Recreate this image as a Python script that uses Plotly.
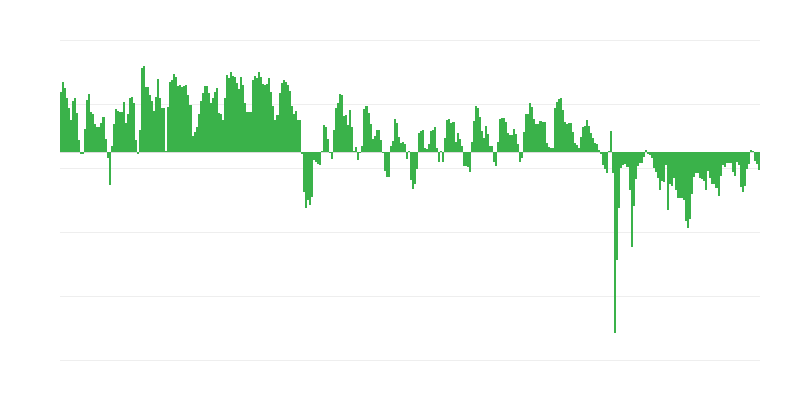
import plotly.graph_objects as go

# bar heights, left to right, in chunks
vals_a = [60.3, 70.3, 63.7, 54.3, 43.7, 32, 51.3, 54.3, 39.3, 12,
          -2.3, -2.3, 23, 52.3, 58.3, 40.3, 38, 27.7, 24.7, 24.7,
          29, 35.3, 13.3, -6.3, -33, 6.3, 28.3, 43, 41, 40.3,
          40.3, 50, 29, 37.7, 54.3, 55, 48.7, 12, -1.3, 22.3,
          84.3, 86, 65.3, 65.3, 57, 51, 41.3, 55, 73, 54.3,
          43.7, 43.7, 1, 45.3, 69.7, 72, 77.7, 75.3, 66, 67]

vals_b = [65.3, 66.3, 67, 57, 47, 16.3, 20.3, 25, 38, 51,
          59, 66.3, 66, 59.3, 49.3, 54.3, 60.3, 63.7, 38.7, 37.7,
          32.3, 53.7, 77, 74.3, 80.3, 76.3, 74.7, 68.7, 63, 75.3,
          67, 49.3, 39.7, 40.3, 39.7, 72, 76.3, 74.3, 80.3, 75.3,
          68, 67, 68, 73.7, 60.3, 46.3, 32.3, 37, 59.3, 68.7,
          72, 70, 67, 61, 46.3, 37.7, 41.3, 32.3, 32.3, -2,
          -40.3, -55.7, -48, -53, -45, -8, -9.7, -12.3, -13, 1, 27]

vals_c = [25, 13.3, -1, -7, 22.3, 44, 49, 58, 57.3, 36.3,
          37.3, 27.3, 41.7, 24.7, 0.5, 5, -8.3, -1, 6.3, 43,
          45.7, 39, 28, 13, 16.3, 21.7, 21.7, 12.3, -1, -18.7,
          -25.3, -25.3, 6.3, 11.3, 33.3, 29, 14.7, 9, 9.7,
          8, -7, 0.7, -27.7, -37, -32, -16.7, 19, 20.7, 22.3,
          3.7, 3, 8.3, 21, 21.7, 25, 4, -10.3, 0.5, -10,
          14, 31.7, 33, 29, 30, 10, 19, 13, 6.3, -13.7,
          -13.7, -15.3, -20.3]

vals_d = [9.7, 31.3, 46.3, 44.3, 35.3, 21.3, 13.7, 26, 18, 6.3,
          6.3, -10.3, -13.7, 10.3, 33, 33.7, 34.3, 30.3, 19.3, 16.7,
          17, 23, 17.7, 8, -9.7, -6.3, 19.7, 38, 38, 48.7,
          45.3, 33, 27.7, 27.7, 31.3, 29.7, 29.7, 9.3, 4.7, 4.3,
          4.3, 43.7, 50.3, 53, 54.3, 42, 30.3, 27.7, 28.7, 28.7,
          19.7, 9.3, 7, 4.3, 15.3, 25.3, 26, 32, 26, 18.7,
          14.3, 8.7, 8, 2, -1.3, -13, -17, -21.3, 1, 21]

vals_e = [-21, -181, -107.7, -56, -16, -13, -12, -15.3, -38.3, -95, -54.3,
          -27, -13.7, -11, -11, -5, 1.3, -2, -3.3, -6, -16,
          -20, -26, -38.3, -29.3, -30.3, -12.7, -58.3, -32, -34.3, -26, -38.3,
          -46, -46, -46, -47.7, -68.7, -76, -66.7, -42, -25, -21,
          -21, -26, -27, -28.7, -37.7, -18.7, -26, -32, -32, -36,
          -43.7, -24.3, -12.7, -15.3, -11, -11, -11, -20, -23.7, -10,
          -13.3, -35.3, -40.3, -34.3, -16.7, -12, 1.3, 0.3, -8.7, -12,
          -18.3]

values = vals_a + vals_b + vals_c + vals_d + vals_e
periods = list(range(len(values)))

grid_vals = [112, 48, -16, -80, -144, -208]

fig = go.Figure(go.Bar(
    x=periods, y=values,
    marker=dict(color="#3AB24A", line=dict(width=0)),
    hoverinfo="x+y",
))

# page body has an 8px margin, so the figure is 792x392 and offsets are trimmed
fig.update_layout(
    width=792, height=392,
    margin=dict(l=52, r=40, t=30, b=38),
    paper_bgcolor="white", plot_bgcolor="white",
    bargap=0,
    showlegend=False,
)
fig.update_xaxes(
    range=[-0.5, len(values) - 0.5],
    showgrid=False, zeroline=False, showticklabels=False, ticks="",
)
fig.update_yaxes(
    range=[-210, 114],
    tickvals=grid_vals, showticklabels=False, ticks="",
    gridcolor="#eeeeee", gridwidth=1,
    zeroline=True, zerolinecolor="#dcdcdc", zerolinewidth=1,
)

fig.write_html("out.html")
